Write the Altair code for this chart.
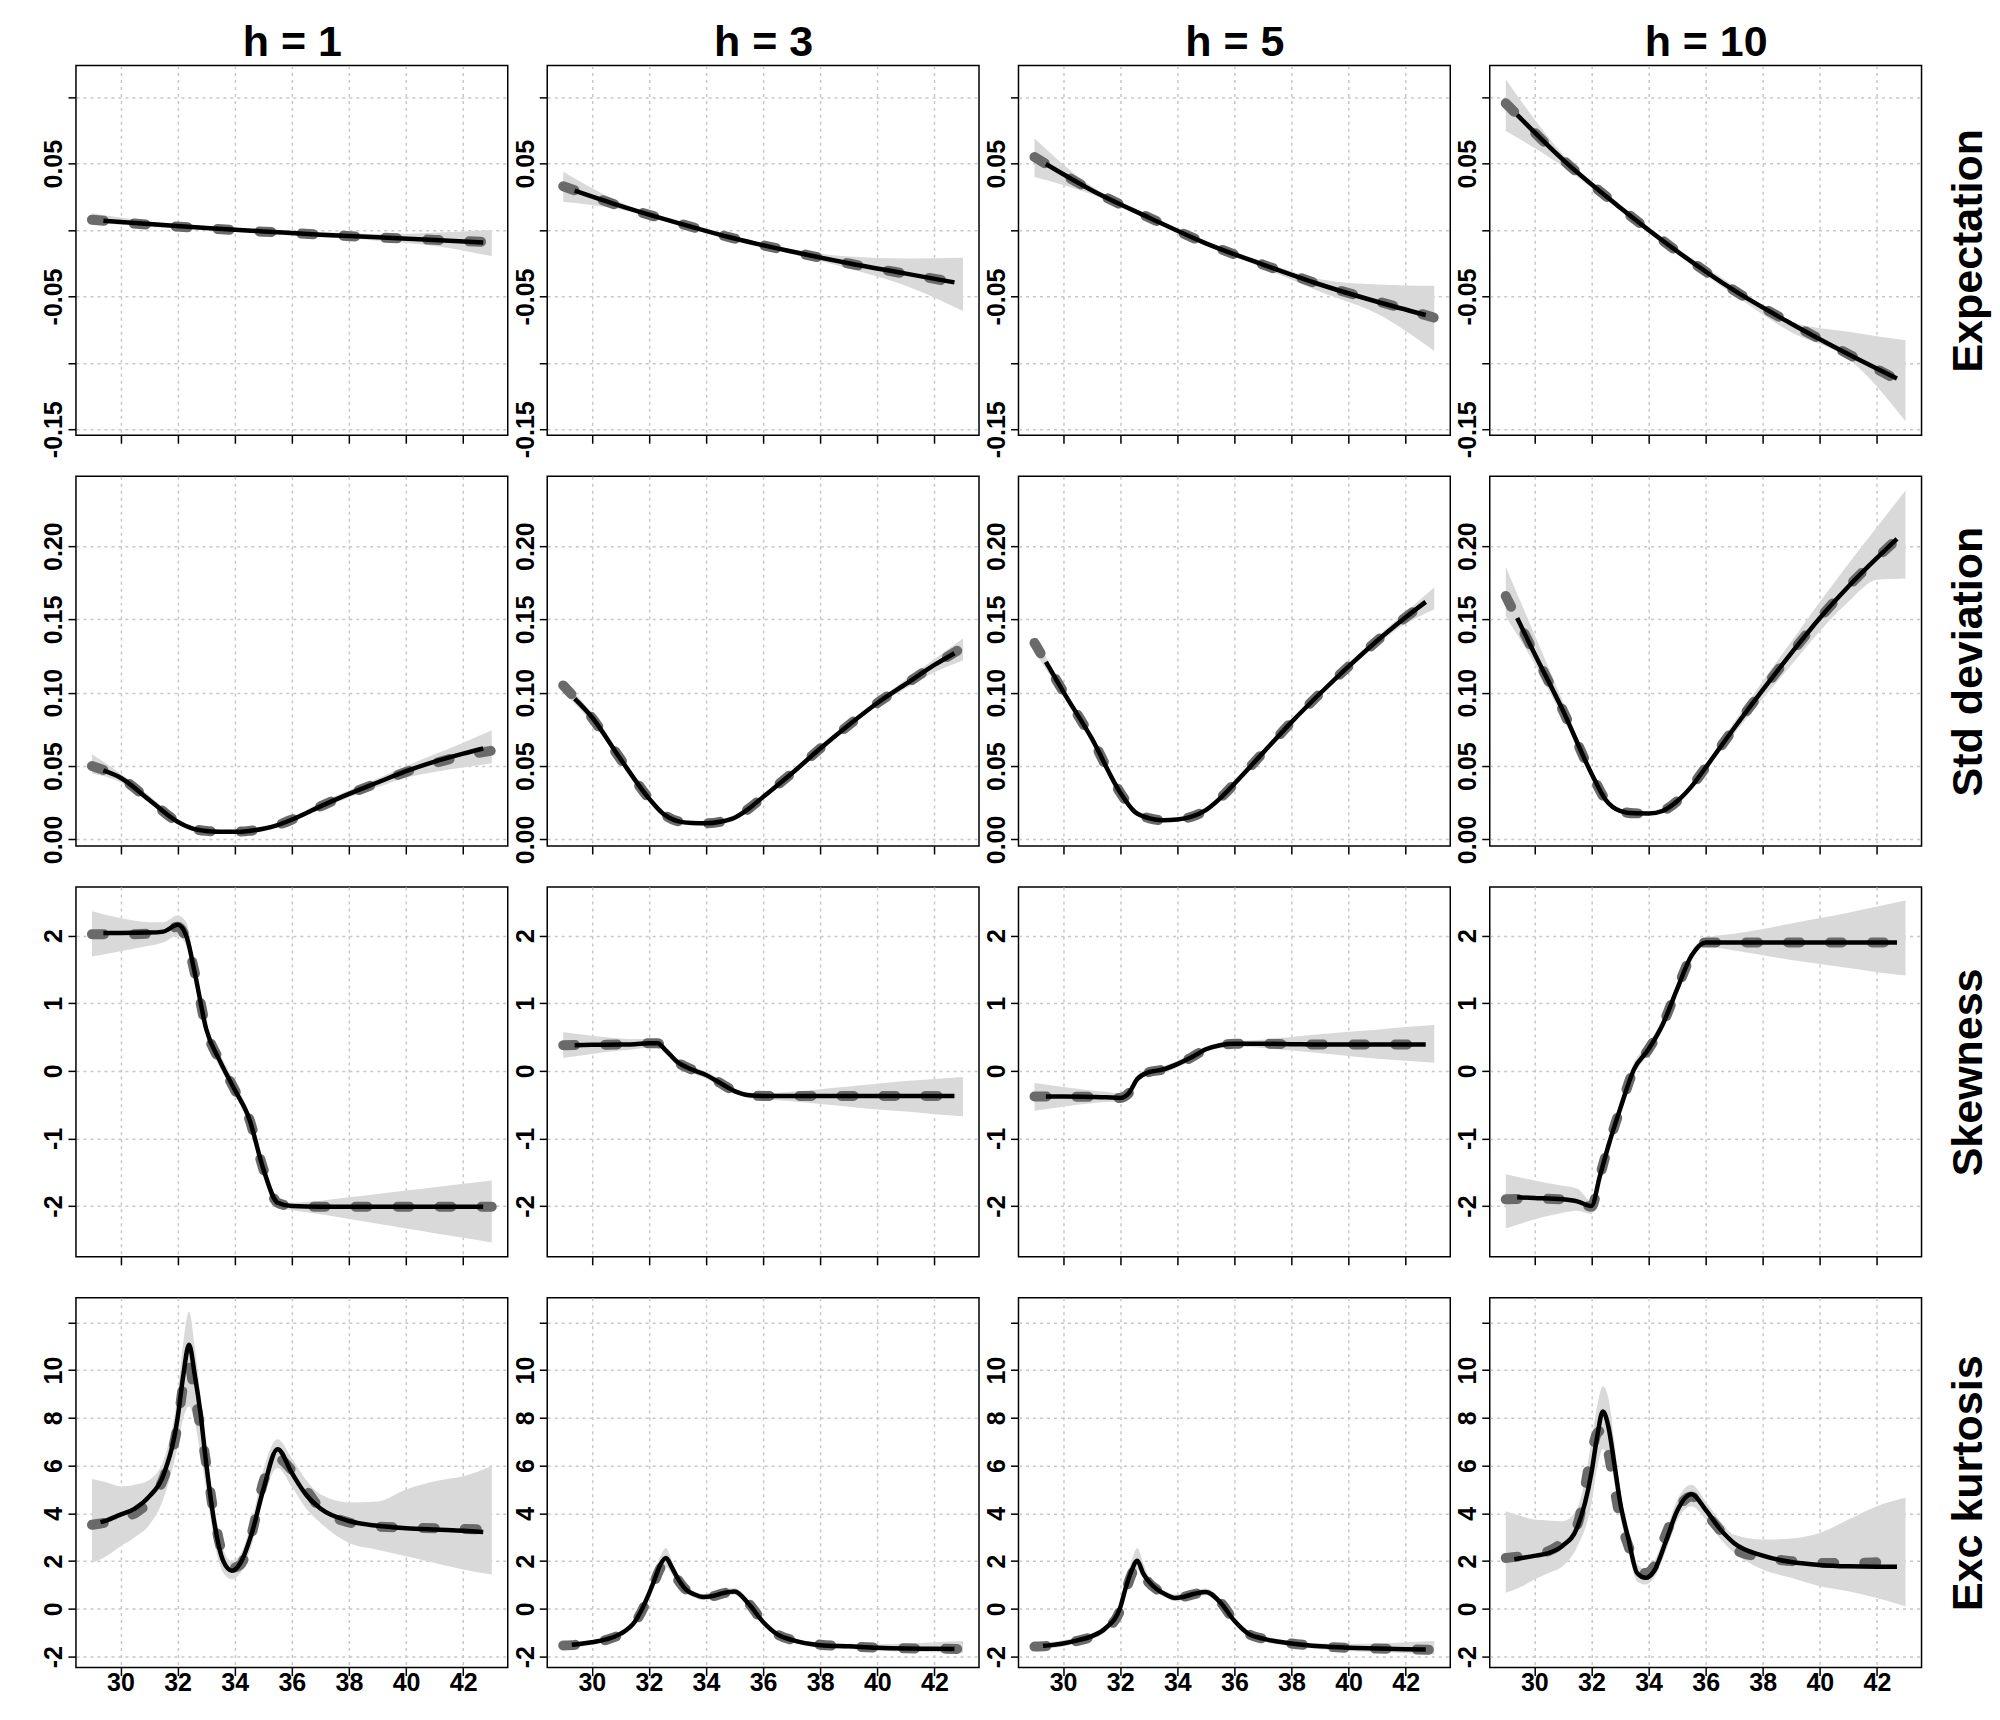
import altair as alt
import pandas as pd

FONT = "Liberation Sans"
PANEL_W, PANEL_H = 432, 370
BAND_COLOR = "#d9d9d9"
TRUE_COLOR = "#6a6a6a"
GRID_COLOR = "#c8c8c8"

COL_TITLES = ["h = 1", "h = 3", "h = 5", "h = 10"]
H_KEYS = [1, 3, 5, 10]
ROW_NAMES = ["Expectation", "Std deviation", "Skewness", "Exc kurtosis"]

X_DOMAIN = [28.44, 43.56]
X_TICKS = [30, 32, 34, 36, 38, 40, 42]
X_LABELS = ["30", "32", "34", "36", "38", "40", "42"]

Y_DOMAINS = [[-0.1545, 0.124], [-0.0045, 0.2477], [-2.75, 2.72], [-2.46, 13.03]]
Y_TICKS = [
    [-0.15, -0.10, -0.05, 0.0, 0.05, 0.10],
    [0.0, 0.05, 0.10, 0.15, 0.20],
    [-2, -1, 0, 1, 2],
    [-2, 0, 2, 4, 6, 8, 10, 12],
]
Y_LABELS = [
    ["-0.15", "", "-0.05", "", "0.05", ""],
    ["0.00", "0.05", "0.10", "0.15", "0.20"],
    ["-2", "-1", "0", "1", "2"],
    ["-2", "0", "2", "4", "6", "8", "10", ""],
]

# ---------------- Expectation ----------------
EXP_X = [29, 31, 33, 35, 37, 39, 41, 43]
EXP_XE = [29.4, 31, 33, 35, 37, 39, 41, 42.7]
EXP_TRUE = {
    1: [0.0078, 0.0040, 0.0013, -0.0012, -0.0034, -0.0056, -0.0074, -0.0092],
    3: [0.033, 0.018, 0.0054, -0.0064, -0.0162, -0.0252, -0.033, -0.0404],
    5: [0.055, 0.030, 0.0095, -0.010, -0.026, -0.041, -0.0535, -0.066],
    10: [0.0955, 0.053, 0.017, -0.016, -0.0455, -0.0705, -0.0935, -0.116],
}
EXP_EST = {
    1: [0.0070, 0.0045, 0.0015, -0.0010, -0.0035, -0.0055, -0.0075, -0.0093],
    3: [0.0297, 0.0182, 0.0054, -0.0064, -0.0162, -0.025, -0.0328, -0.0394],
    5: [0.0497, 0.030, 0.0095, -0.010, -0.026, -0.041, -0.054, -0.064],
    10: [0.0867, 0.053, 0.017, -0.016, -0.0455, -0.0705, -0.0935, -0.1118],
}
EXP_HI = {
    1: [0.0126, 0.0065, 0.0030, 0.0005, -0.0015, -0.0030, -0.0020, 0.0000],
    3: [0.044, 0.021, 0.0064, -0.0052, -0.0145, -0.020, -0.0215, -0.0209],
    5: [0.069, 0.033, 0.011, -0.0085, -0.0235, -0.037, -0.041, -0.042],
    10: [0.1136, 0.057, 0.0195, -0.0135, -0.042, -0.069, -0.0766, -0.083],
}
EXP_LO = {
    1: [0.0056, 0.0025, 0.0000, -0.0028, -0.0055, -0.0080, -0.012, -0.0197],
    3: [0.0214, 0.0155, 0.0044, -0.0076, -0.018, -0.029, -0.042, -0.061],
    5: [0.040, 0.027, 0.008, -0.0115, -0.0285, -0.0465, -0.063, -0.091],
    10: [0.0746, 0.048, 0.0145, -0.0185, -0.049, -0.077, -0.097, -0.144],
}

# ---------------- Std deviation ----------------
STD_X = [29, 30, 31, 32, 32.5, 33, 33.5, 34, 34.5, 35, 35.5, 36, 37, 38, 39, 40, 41, 42, 43]
STD_XE = [29.4, 30, 31, 32, 32.5, 33, 33.5, 34, 34.5, 35, 35.5, 36, 37, 38, 39, 40, 41, 42, 42.7]
STD_TRUE = {
    1: [0.050, 0.042, 0.027, 0.012, 0.0075, 0.0058, 0.0053, 0.0052, 0.0058, 0.0073, 0.0098, 0.0135, 0.0225, 0.031, 0.0385, 0.046, 0.052, 0.057, 0.0605],
    3: [0.105, 0.083, 0.055, 0.028, 0.0175, 0.0125, 0.0112, 0.011, 0.012, 0.0148, 0.021, 0.029, 0.045, 0.062, 0.078, 0.093, 0.106, 0.119, 0.131],
    5: [0.134, 0.101, 0.069, 0.032, 0.019, 0.0145, 0.013, 0.0135, 0.0155, 0.020, 0.028, 0.038, 0.059, 0.080, 0.0995, 0.118, 0.1355, 0.1515, 0.1655],
    10: [0.166, 0.127, 0.088, 0.045, 0.027, 0.0195, 0.0178, 0.0177, 0.0195, 0.026, 0.036, 0.049, 0.076, 0.102, 0.127, 0.151, 0.1725, 0.192, 0.210],
}
STD_EST = {
    1: [0.047, 0.042, 0.027, 0.012, 0.0075, 0.0058, 0.0053, 0.0052, 0.0058, 0.0073, 0.0098, 0.0135, 0.0225, 0.031, 0.0388, 0.0465, 0.053, 0.0585, 0.062],
    3: [0.096, 0.0835, 0.055, 0.028, 0.0175, 0.0125, 0.0112, 0.011, 0.012, 0.0148, 0.021, 0.029, 0.045, 0.062, 0.078, 0.093, 0.106, 0.119, 0.127],
    5: [0.121, 0.101, 0.069, 0.032, 0.019, 0.0145, 0.013, 0.0135, 0.0155, 0.020, 0.028, 0.038, 0.059, 0.080, 0.0995, 0.118, 0.1355, 0.1515, 0.162],
    10: [0.151, 0.127, 0.088, 0.045, 0.027, 0.0195, 0.0178, 0.0177, 0.0195, 0.026, 0.036, 0.049, 0.076, 0.102, 0.127, 0.151, 0.1725, 0.192, 0.205],
}
STD_HI = {
    1: [0.058, 0.045, 0.030, 0.0135, 0.0085, 0.0066, 0.006, 0.006, 0.0066, 0.0082, 0.011, 0.015, 0.025, 0.0335, 0.0415, 0.050, 0.058, 0.066, 0.0745],
    3: [0.108, 0.086, 0.057, 0.029, 0.0185, 0.013, 0.012, 0.0118, 0.0128, 0.0158, 0.022, 0.030, 0.0465, 0.0635, 0.0795, 0.095, 0.109, 0.123, 0.137],
    5: [0.138, 0.104, 0.071, 0.033, 0.020, 0.0155, 0.014, 0.0145, 0.0165, 0.021, 0.029, 0.039, 0.0605, 0.0815, 0.101, 0.120, 0.138, 0.155, 0.172],
    10: [0.186, 0.140, 0.094, 0.047, 0.028, 0.0205, 0.0188, 0.0187, 0.0205, 0.027, 0.0375, 0.051, 0.080, 0.108, 0.135, 0.162, 0.188, 0.213, 0.238],
}
STD_LO = {
    1: [0.045, 0.039, 0.025, 0.011, 0.0067, 0.005, 0.0046, 0.0045, 0.005, 0.0065, 0.0088, 0.012, 0.0205, 0.0285, 0.0355, 0.042, 0.046, 0.049, 0.052],
    3: [0.100, 0.080, 0.053, 0.027, 0.0165, 0.0118, 0.0104, 0.0102, 0.0112, 0.014, 0.020, 0.028, 0.0435, 0.0605, 0.0765, 0.091, 0.103, 0.114, 0.122],
    5: [0.128, 0.098, 0.067, 0.031, 0.018, 0.0135, 0.012, 0.0125, 0.0145, 0.019, 0.027, 0.037, 0.0575, 0.0785, 0.098, 0.116, 0.133, 0.147, 0.157],
    10: [0.152, 0.120, 0.083, 0.043, 0.026, 0.0185, 0.0168, 0.0167, 0.0185, 0.025, 0.0345, 0.047, 0.072, 0.096, 0.119, 0.142, 0.162, 0.177, 0.178],
}

# ---------------- Skewness ----------------
SKW_X = [29, 30, 31, 31.5, 32, 32.3, 32.6, 33, 33.5, 34, 34.5, 35, 35.5, 36, 37, 38, 39, 40, 41, 42, 43]
SKW_XE = [29.4, 30, 31, 31.5, 32, 32.3, 32.6, 33, 33.5, 34, 34.5, 35, 35.5, 36, 37, 38, 39, 40, 41, 42, 42.7]
SKW_TRUE = {
    1: [2.02, 2.02, 2.03, 2.05, 2.13, 1.95, 1.45, 0.62, 0.13, -0.28, -0.70, -1.45, -1.95, -2.00, -2.01, -2.01, -2.01, -2.01, -2.01, -2.01, -2.01],
    3: [0.38, 0.385, 0.39, 0.395, 0.41, 0.41, 0.30, 0.13, 0.02, -0.06, -0.18, -0.30, -0.36, -0.37, -0.37, -0.37, -0.37, -0.37, -0.37, -0.37, -0.37],
    5: [-0.38, -0.38, -0.385, -0.39, -0.40, -0.33, -0.12, -0.02, 0.02, 0.10, 0.20, 0.32, 0.38, 0.40, 0.40, 0.395, 0.39, 0.39, 0.39, 0.39, 0.39],
    10: [-1.90, -1.89, -1.90, -1.92, -2.01, -1.55, -1.10, -0.57, 0.03, 0.32, 0.69, 1.21, 1.70, 1.90, 1.90, 1.90, 1.90, 1.90, 1.90, 1.90, 1.90],
}
SKW_EST = {
    1: [2.04, 2.04, 2.045, 2.06, 2.16, 2.00, 1.45, 0.62, 0.13, -0.28, -0.70, -1.45, -1.95, -2.00, -2.01, -2.01, -2.01, -2.01, -2.01, -2.01, -2.01],
    3: [0.38, 0.385, 0.39, 0.395, 0.41, 0.41, 0.30, 0.13, 0.02, -0.06, -0.18, -0.30, -0.36, -0.37, -0.37, -0.37, -0.37, -0.37, -0.37, -0.37, -0.37],
    5: [-0.38, -0.38, -0.385, -0.39, -0.40, -0.33, -0.12, -0.02, 0.02, 0.10, 0.20, 0.32, 0.38, 0.40, 0.40, 0.395, 0.39, 0.39, 0.39, 0.39, 0.39],
    10: [-1.87, -1.88, -1.90, -1.93, -2.00, -1.55, -1.10, -0.57, 0.03, 0.32, 0.69, 1.21, 1.70, 1.90, 1.90, 1.90, 1.90, 1.90, 1.90, 1.90, 1.90],
}
SKW_HI = {
    1: [2.36, 2.26, 2.20, 2.20, 2.30, 2.20, 1.55, 0.72, 0.23, -0.17, -0.62, -1.37, -1.88, -1.95, -1.92, -1.87, -1.82, -1.77, -1.72, -1.67, -1.62],
    3: [0.57, 0.52, 0.48, 0.47, 0.47, 0.46, 0.35, 0.18, 0.07, -0.01, -0.13, -0.26, -0.32, -0.33, -0.31, -0.27, -0.23, -0.19, -0.15, -0.12, -0.09],
    5: [-0.18, -0.24, -0.29, -0.31, -0.34, -0.28, -0.07, 0.03, 0.07, 0.15, 0.25, 0.36, 0.42, 0.44, 0.46, 0.50, 0.54, 0.58, 0.61, 0.65, 0.68],
    10: [-1.53, -1.62, -1.70, -1.74, -1.93, -1.47, -1.00, -0.47, 0.13, 0.41, 0.78, 1.29, 1.77, 1.97, 2.03, 2.10, 2.18, 2.26, 2.34, 2.43, 2.52],
}
SKW_LO = {
    1: [1.69, 1.77, 1.85, 1.90, 2.00, 1.85, 1.35, 0.52, 0.03, -0.35, -0.80, -1.55, -2.03, -2.06, -2.12, -2.19, -2.26, -2.33, -2.40, -2.47, -2.54],
    3: [0.19, 0.25, 0.30, 0.32, 0.35, 0.36, 0.25, 0.08, -0.03, -0.11, -0.23, -0.34, -0.40, -0.42, -0.45, -0.49, -0.53, -0.57, -0.60, -0.64, -0.67],
    5: [-0.59, -0.53, -0.48, -0.46, -0.45, -0.38, -0.17, -0.07, -0.03, 0.05, 0.15, 0.28, 0.34, 0.36, 0.34, 0.30, 0.26, 0.22, 0.18, 0.15, 0.12],
    10: [-2.33, -2.20, -2.10, -2.07, -2.12, -1.63, -1.20, -0.65, -0.05, 0.25, 0.62, 1.13, 1.63, 1.84, 1.78, 1.71, 1.64, 1.58, 1.52, 1.46, 1.41],
}

# ---------------- Excess kurtosis ----------------
KUR_X = [29, 29.5, 30, 30.5, 31, 31.5, 32, 32.2, 32.4, 32.6, 32.8, 33, 33.3, 33.6, 33.9, 34.2, 34.6, 35, 35.5, 36, 36.5, 37, 38, 39, 40, 41, 42, 43]
KUR_XE = [29.3, 29.5, 30, 30.5, 31, 31.5, 32, 32.2, 32.4, 32.6, 32.8, 33, 33.3, 33.6, 33.9, 34.2, 34.6, 35, 35.5, 36, 36.5, 37, 38, 39, 40, 41, 42, 42.7]
KUR_TRUE = {
    1: [3.52, 3.62, 3.80, 4.00, 4.50, 5.45, 7.70, 9.40, 10.20, 8.90, 7.60, 6.10, 3.74, 2.20, 1.71, 1.85, 3.18, 5.30, 6.30, 5.80, 5.00, 4.20, 3.62, 3.45, 3.40, 3.38, 3.35, 3.32],
    3: [-1.53, -1.50, -1.42, -1.30, -1.07, -0.60, 0.55, 1.15, 1.70, 1.95, 1.65, 1.25, 0.80, 0.60, 0.50, 0.52, 0.65, 0.72, 0.22, -0.55, -1.07, -1.30, -1.50, -1.57, -1.62, -1.65, -1.67, -1.68],
    5: [-1.58, -1.55, -1.47, -1.34, -1.17, -0.85, -0.05, 0.75, 1.45, 1.85, 1.45, 1.10, 0.80, 0.60, 0.46, 0.50, 0.62, 0.70, 0.30, -0.50, -1.05, -1.25, -1.45, -1.57, -1.63, -1.66, -1.69, -1.72],
    10: [2.13, 2.20, 2.30, 2.42, 2.80, 3.50, 6.50, 7.35, 7.50, 6.50, 5.10, 3.80, 2.62, 1.75, 1.50, 1.79, 3.10, 4.15, 4.71, 4.00, 3.30, 2.50, 2.15, 2.00, 1.92, 1.92, 1.95, 2.00],
}
KUR_EST = {
    1: [3.63, 3.70, 3.95, 4.20, 4.70, 5.60, 8.00, 9.80, 11.06, 9.80, 8.20, 6.10, 3.50, 2.00, 1.60, 1.92, 3.18, 5.00, 6.69, 5.69, 4.78, 4.20, 3.68, 3.48, 3.38, 3.32, 3.27, 3.22],
    3: [-1.50, -1.48, -1.40, -1.28, -1.05, -0.55, 0.63, 1.23, 1.85, 2.13, 1.75, 1.30, 0.81, 0.60, 0.50, 0.53, 0.66, 0.73, 0.20, -0.55, -1.07, -1.30, -1.52, -1.57, -1.63, -1.66, -1.67, -1.68],
    5: [-1.55, -1.53, -1.45, -1.32, -1.15, -0.80, 0.05, 0.90, 1.60, 2.02, 1.50, 1.15, 0.81, 0.60, 0.46, 0.50, 0.63, 0.71, 0.28, -0.50, -1.05, -1.25, -1.45, -1.57, -1.63, -1.66, -1.69, -1.70],
    10: [2.08, 2.12, 2.22, 2.34, 2.65, 3.40, 5.70, 7.20, 8.27, 7.60, 6.10, 4.50, 2.90, 1.50, 1.30, 1.60, 2.80, 4.10, 4.80, 4.15, 3.35, 2.75, 2.23, 1.96, 1.84, 1.78, 1.76, 1.76],
}
KUR_HI = {
    1: [5.44, 5.30, 5.13, 5.20, 5.40, 6.20, 9.00, 11.20, 12.45, 11.00, 8.90, 6.80, 4.20, 2.50, 2.00, 2.30, 3.70, 5.80, 7.10, 6.30, 5.40, 4.80, 4.46, 4.50, 5.00, 5.34, 5.55, 5.97],
    3: [-1.38, -1.38, -1.30, -1.18, -0.93, -0.42, 0.80, 1.50, 2.20, 2.55, 2.05, 1.50, 0.95, 0.73, 0.63, 0.66, 0.80, 0.87, 0.33, -0.43, -0.95, -1.20, -1.42, -1.46, -1.48, -1.45, -1.40, -1.35],
    5: [-1.40, -1.40, -1.32, -1.20, -1.02, -0.65, 0.22, 1.15, 2.00, 2.55, 1.95, 1.35, 0.95, 0.73, 0.60, 0.63, 0.76, 0.85, 0.42, -0.38, -0.93, -1.13, -1.35, -1.45, -1.47, -1.45, -1.40, -1.35],
    10: [4.09, 3.90, 3.74, 3.70, 3.67, 4.20, 7.00, 8.50, 9.32, 8.80, 7.00, 5.10, 3.30, 1.90, 1.65, 2.00, 3.20, 4.55, 5.20, 4.50, 3.70, 3.10, 2.90, 2.95, 3.18, 3.74, 4.30, 4.65],
}
KUR_LO = {
    1: [1.92, 2.20, 2.62, 3.00, 3.50, 4.60, 6.80, 8.00, 8.48, 7.80, 6.50, 5.00, 2.70, 1.50, 1.23, 1.50, 2.70, 4.60, 5.90, 5.10, 4.20, 3.60, 2.76, 2.48, 2.20, 1.92, 1.65, 1.44],
    3: [-1.68, -1.60, -1.50, -1.38, -1.17, -0.70, 0.40, 1.00, 1.50, 1.75, 1.45, 1.10, 0.67, 0.47, 0.37, 0.40, 0.52, 0.59, 0.07, -0.67, -1.19, -1.40, -1.62, -1.68, -1.75, -1.79, -1.82, -1.84],
    5: [-1.72, -1.66, -1.58, -1.44, -1.28, -0.95, -0.12, 0.65, 1.30, 1.65, 1.30, 1.00, 0.67, 0.47, 0.33, 0.37, 0.50, 0.57, 0.14, -0.62, -1.17, -1.37, -1.56, -1.69, -1.76, -1.81, -1.86, -1.91],
    10: [0.67, 0.90, 1.23, 1.50, 1.79, 2.60, 4.40, 5.90, 6.70, 6.40, 5.30, 3.90, 2.40, 1.15, 1.02, 1.30, 2.40, 3.70, 4.30, 3.75, 2.95, 2.35, 1.65, 1.30, 0.95, 0.74, 0.46, 0.11],
}

ROW_X = [EXP_X, STD_X, SKW_X, KUR_X]
ROW_XE = [EXP_XE, STD_XE, SKW_XE, KUR_XE]
ROW_TRUE = [EXP_TRUE, STD_TRUE, SKW_TRUE, KUR_TRUE]
ROW_EST = [EXP_EST, STD_EST, SKW_EST, KUR_EST]
ROW_HI = [EXP_HI, STD_HI, SKW_HI, KUR_HI]
ROW_LO = [EXP_LO, STD_LO, SKW_LO, KUR_LO]


def label_expr(values, labels):
    expr = "''"
    for v, lab in zip(reversed(values), reversed(labels)):
        expr = f"abs(datum.value - ({v})) < 1e-6 ? '{lab}' : ({expr})"
    return expr


def make_panel(r, c):
    h = H_KEYS[c]
    df_true = pd.DataFrame({"x": ROW_X[r], "y": ROW_TRUE[r][h]})
    df_est = pd.DataFrame({"x": ROW_XE[r], "y": ROW_EST[r][h]})
    df_band = pd.DataFrame({"x": ROW_X[r], "lo": ROW_LO[r][h], "hi": ROW_HI[r][h]})

    xscale = alt.Scale(domain=X_DOMAIN, nice=False, zero=False)
    yscale = alt.Scale(domain=Y_DOMAINS[r], nice=False, zero=False)
    top = r == 0
    bottom = r == len(ROW_NAMES) - 1
    last_col = c == len(COL_TITLES) - 1

    x_axis = alt.Axis(
        values=X_TICKS, labelExpr=label_expr(X_TICKS, X_LABELS), labels=bottom,
        title=None, grid=True, gridColor=GRID_COLOR, gridDash=[3, 4], gridWidth=1.5,
        domain=False, ticks=True, tickSize=8, tickWidth=1.5, tickColor="black",
        labelFont=FONT, labelFontSize=25, labelFontWeight="bold", labelColor="black",
        labelPadding=7, labelBaseline="middle", labelFlush=False, labelOverlap=False,
    )
    y_axis = alt.Axis(
        values=Y_TICKS[r], labelExpr=label_expr(Y_TICKS[r], Y_LABELS[r]),
        title=None, grid=True, gridColor=GRID_COLOR, gridDash=[3, 4], gridWidth=1.5,
        domain=False, ticks=True, tickSize=8, tickWidth=1.5, tickColor="black",
        labelFont=FONT, labelFontSize=25, labelFontWeight="bold", labelColor="black",
        labelAngle=270, labelAlign="center", labelBaseline="alphabetic", labelPadding=6,
        labelFlush=False, labelOverlap=False,
    )

    band = alt.Chart(df_band).mark_area(color=BAND_COLOR, opacity=1, interpolate="monotone").encode(
        x=alt.X("x:Q", scale=xscale, axis=x_axis),
        y=alt.Y("lo:Q", scale=yscale, axis=y_axis),
        y2="hi:Q",
    )
    true_line = alt.Chart(df_true).mark_line(
        color=TRUE_COLOR, strokeWidth=10, strokeDash=[12, 30], strokeCap="round",
        interpolate="monotone",
    ).encode(
        x=alt.X("x:Q", scale=xscale, axis=None if top else x_axis),
        y=alt.Y("y:Q", scale=yscale, axis=None if last_col else y_axis),
    )

    # column header: title of a top x axis; row header: title of a right y axis
    if top:
        est_x = alt.X("x:Q", scale=xscale, axis=alt.Axis(
            orient="top", labels=False, ticks=False, domain=False, grid=False,
            title=COL_TITLES[c], titleFont=FONT, titleFontSize=43, titleFontWeight="bold",
            titleColor="black", titleBaseline="alphabetic", titlePadding=10,
        ))
    else:
        est_x = alt.X("x:Q", scale=xscale, axis=x_axis)
    if last_col:
        est_y = alt.Y("y:Q", scale=yscale, axis=alt.Axis(
            orient="right", labels=False, ticks=False, domain=False, grid=False,
            title=ROW_NAMES[r], titleFont=FONT, titleFontSize=43, titleFontWeight="bold",
            titleColor="black", titleAngle=270, titleBaseline="top", titlePadding=26,
        ))
    else:
        est_y = alt.Y("y:Q", scale=yscale, axis=y_axis)
    est_line = alt.Chart(df_est).mark_line(
        color="black", strokeWidth=4.5, interpolate="monotone",
    ).encode(x=est_x, y=est_y)

    layer = alt.layer(band, true_line, est_line).properties(width=PANEL_W, height=PANEL_H)
    if top and last_col:
        layer = layer.resolve_axis(x="independent", y="independent")
    elif top:
        layer = layer.resolve_axis(x="independent")
    elif last_col:
        layer = layer.resolve_axis(y="independent")
    return layer


panels = [make_panel(r, c) for r in range(len(ROW_NAMES)) for c in range(len(COL_TITLES))]

chart = alt.concat(
    *panels, columns=len(COL_TITLES), spacing={"row": 41, "column": 39.5}, bounds="flush",
).properties(
    padding={"left": 33, "top": 12, "right": 0, "bottom": 0},
    background="white",
).configure(font=FONT).configure_view(stroke="black", strokeWidth=1.5)

chart.save("out.html", embed_options={"renderer": "svg", "actions": False})
